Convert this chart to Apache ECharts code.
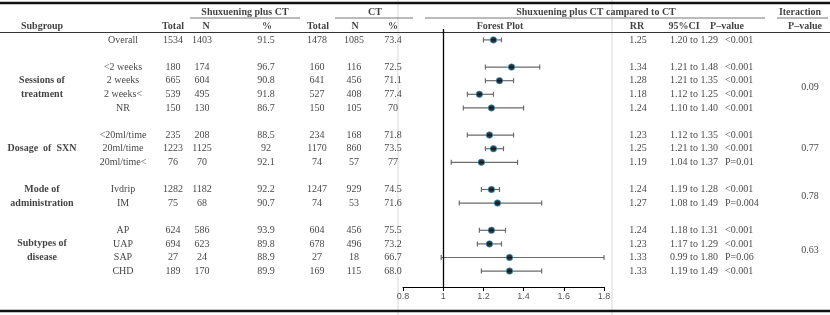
<!DOCTYPE html>
<html>
<head>
<meta charset="utf-8">
<script src="https://cdn.jsdelivr.net/npm/echarts@6.0.0/dist/echarts.min.js"></script>
<style>
  html, body { margin: 0; padding: 0; background: #fff; }
  #chart { width: 830px; height: 315px; }
</style>
</head>
<body>
<div id="chart"></div>
<script>
// table rows
const subgroups = ['Overall', '<2 weeks', '2 weeks', '2 weeks<', 'NR', '<20ml/time', '20ml/time', '20ml/time<',
  'Ivdrip', 'IM', 'AP', 'UAP', 'SAP', 'CHD']
const rowIndex = [0, 2, 3, 4, 5, 7, 8, 9, 11, 12, 14, 15, 16, 17]
const sxnTotal = [1534, 180, 665, 539, 150, 235, 1223, 76, 1282, 75, 624, 694, 27, 189]
const sxnN = [1403, 174, 604, 495, 130, 208, 1125, 70, 1182, 68, 586, 623, 24, 170]
const sxnPct = ['91.5', '96.7', '90.8', '91.8', '86.7', '88.5', '92', '92.1', '92.2', '90.7', '93.9', '89.8', '88.9', '89.9']
const ctTotal = [1478, 160, 641, 527, 150, 234, 1170, 74, 1247, 74, 604, 678, 27, 169]
const ctN = [1085, 116, 456, 408, 105, 168, 860, 57, 929, 53, 456, 496, 18, 115]
const ctPct = ['73.4', '72.5', '71.1', '77.4', '70', '71.8', '73.5', '77', '74.5', '71.6', '75.5', '73.2', '66.7', '68.0']
const rr = [1.25, 1.34, 1.28, 1.18, 1.24, 1.23, 1.25, 1.19, 1.24, 1.27, 1.24, 1.23, 1.33, 1.33]
const ciLow = [1.20, 1.21, 1.21, 1.12, 1.10, 1.12, 1.21, 1.04, 1.19, 1.08, 1.18, 1.17, 0.99, 1.19]
const ciHigh = [1.29, 1.48, 1.35, 1.25, 1.40, 1.35, 1.30, 1.37, 1.28, 1.49, 1.31, 1.29, 1.80, 1.49]
const pValues = ['<0.001', '<0.001', '<0.001', '<0.001', '<0.001', '<0.001', '<0.001', 'P=0.01',
  '<0.001', 'P=0.004', '<0.001', '<0.001', 'P=0.06', '<0.001']

// group labels on the left
const groupNames = ['Sessions of', 'treatment', 'Dosage  of  SXN', 'Mode of', 'administration', 'Subtypes of', 'disease']
const groupRows = [3, 4, 8, 11, 12, 15, 16]

// interaction p-values
const interactionP = ['0.09', '0.77', '0.78', '0.63']
const interactionRows = [3.5, 8, 11.5, 15.5]

// layout
const W = 830
const H = 315
const row0 = 39.9
const rowPx = 13.6
const plotTop = 29
const plotBottom = 287
const serif = 'Liberation Serif'

function textSeries (items, x, align, bold) {
  return {
    type: 'scatter',
    xAxisIndex: 0,
    yAxisIndex: 0,
    symbolSize: 0,
    silent: true,
    clip: false,
    animation: false,
    data: items.map(it => [x, it[1], it[0]]),
    label: {
      show: true,
      position: 'inside',
      align: align,
      verticalAlign: 'middle',
      fontFamily: serif,
      fontSize: 10,
      fontWeight: bold ? 'bold' : 'normal',
      color: '#111',
      formatter: p => p.value[2]
    }
  }
}

const col = (arr) => arr.map((v, i) => [String(v), rowIndex[i]])
const hdr1 = -2.05
const hdr2 = -1.0

const series = [
  textSeries([['Shuxuening plus CT', hdr1]], 245, 'center', true),
  textSeries([['CT', hdr1]], 375, 'center', true),
  textSeries([['Shuxuening plus CT campared to CT', hdr1]], 596, 'center', true),
  textSeries([['Iteraction', hdr1]], 800, 'center', true),
  textSeries([['Subgroup', hdr2]], 42, 'center', true),
  textSeries([['Total', hdr2]], 173, 'center', true),
  textSeries([['N', hdr2]], 206, 'center', true),
  textSeries([['%', hdr2]], 267, 'center', true),
  textSeries([['Total', hdr2]], 318, 'center', true),
  textSeries([['N', hdr2]], 355, 'center', true),
  textSeries([['%', hdr2]], 393, 'center', true),
  textSeries([['Forest Plot', hdr2]], 500, 'center', true),
  textSeries([['RR', hdr2]], 637, 'center', true),
  textSeries([['95%CI', hdr2]], 684, 'center', true),
  textSeries([['P\u2013value', hdr2]], 727, 'center', true),
  textSeries([['P\u2013value', hdr2]], 805, 'center', true),
  textSeries(groupNames.map((g, i) => [g, groupRows[i]]), 42, 'center', true),
  textSeries(col(subgroups), 123, 'center', false),
  textSeries(col(sxnTotal), 173, 'center', false),
  textSeries(col(sxnN), 202, 'center', false),
  textSeries(col(sxnPct), 266, 'center', false),
  textSeries(col(ctTotal), 317, 'center', false),
  textSeries(col(ctN), 354, 'center', false),
  textSeries(col(ctPct), 393, 'center', false),
  textSeries(col(rr.map(v => v.toFixed(2))), 638, 'center', false),
  textSeries(col(ciLow.map((v, i) => v.toFixed(2) + ' to ' + ciHigh[i].toFixed(2))), 694, 'center', false),
  textSeries(col(pValues), 725, 'left', false),
  textSeries(interactionP.map((v, i) => [v, interactionRows[i]]), 810, 'center', false),
  {
    // confidence intervals
    type: 'custom',
    xAxisIndex: 1,
    yAxisIndex: 1,
    silent: true,
    animation: false,
    data: ciLow.map((v, i) => [v, ciHigh[i], rowIndex[i]]),
    renderItem: function (params, api) {
      const a = api.coord([api.value(0), api.value(2)])
      const b = api.coord([api.value(1), api.value(2)])
      const cap = 2.5
      const style = { stroke: '#6b6b6b', lineWidth: 1.2 }
      return {
        type: 'group',
        children: [
          { type: 'line', shape: { x1: a[0], y1: a[1], x2: b[0], y2: b[1] }, style: style },
          { type: 'line', shape: { x1: a[0], y1: a[1] - cap, x2: a[0], y2: a[1] + cap }, style: style },
          { type: 'line', shape: { x1: b[0], y1: b[1] - cap, x2: b[0], y2: b[1] + cap }, style: style }
        ]
      }
    },
    z: 3
  },
  {
    // point estimates
    type: 'scatter',
    xAxisIndex: 1,
    yAxisIndex: 1,
    silent: true,
    animation: false,
    symbol: 'circle',
    symbolSize: 6.5,
    data: rr.map((v, i) => [v, rowIndex[i]]),
    itemStyle: { color: '#000', borderColor: '#2aa6e0', borderWidth: 0.8 },
    markLine: {
      silent: true,
      symbol: 'none',
      label: { show: false },
      lineStyle: { color: '#000', width: 1.3, type: 'solid' },
      data: [{ xAxis: 1 }]
    },
    z: 5
  }
]

const line = (x1, y1, x2, y2, w, c) => ({
  type: 'line',
  shape: { x1: x1, y1: y1, x2: x2, y2: y2 },
  style: { stroke: c, lineWidth: w },
  silent: true
})

const chart = echarts.init(document.getElementById('chart'), null, { renderer: 'canvas' })
chart.setOption({
  backgroundColor: '#fff',
  animation: false,
  grid: [
    { left: 0, right: 0, top: 0, bottom: 0 },
    { left: 403, width: 201, top: plotTop, height: plotBottom - plotTop }
  ],
  xAxis: [
    { gridIndex: 0, type: 'value', min: 0, max: W, show: false },
    {
      gridIndex: 1,
      type: 'value',
      min: 0.8,
      max: 1.8,
      interval: 0.2,
      position: 'bottom',
      splitLine: { show: false },
      axisLine: { show: true, onZero: false, lineStyle: { color: '#000', width: 1 } },
      axisTick: { show: true, inside: false, length: 4, lineStyle: { color: '#000', width: 1 } },
      axisLabel: { color: '#595959', fontFamily: 'Liberation Sans', fontSize: 9, margin: 5 }
    }
  ],
  yAxis: [
    { gridIndex: 0, type: 'value', inverse: true, min: -row0 / rowPx, max: (H - row0) / rowPx, show: false },
    {
      gridIndex: 1,
      type: 'value',
      inverse: true,
      min: -(row0 - plotTop) / rowPx,
      max: (plotBottom - row0) / rowPx,
      show: false
    }
  ],
  graphic: [
    line(398, 0, 398, H, 1.5, '#e4e4e4'),
    line(612, 0, 612, H, 1.5, '#e4e4e4'),
    line(0, 3, W, 3, 2.5, '#111'),
    line(190, 18, 300, 18, 1, '#777'),
    line(335, 18, 413, 18, 1, '#777'),
    line(425, 18, 765, 18, 1, '#777'),
    line(777, 18, 828, 18, 1, '#777'),
    line(0, 32.5, W, 32.5, 1.2, '#333'),
    line(0, 311, W, 311, 2.5, '#111')
  ],
  series: series
})
</script>
</body>
</html>
